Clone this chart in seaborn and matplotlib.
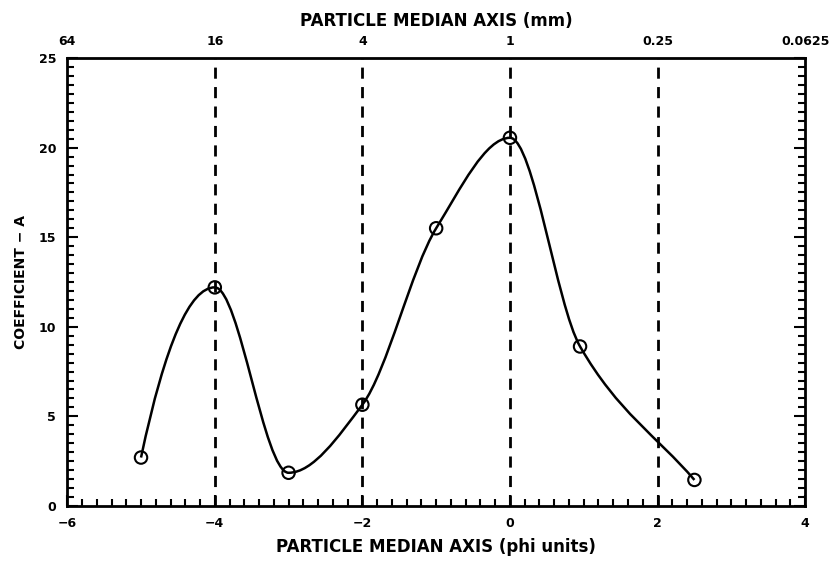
import numpy as np
import pandas as pd
import matplotlib
matplotlib.use("Agg")
import matplotlib.pyplot as plt
from matplotlib.path import Path
from matplotlib.patches import PathPatch
from matplotlib.ticker import MultipleLocator
import seaborn as sns

# values
phi = [-5, -4, -3, -2, -1, 0, 0.95, 2.5]
coef_a = [2.7, 12.2, 1.85, 5.65, 15.5, 20.55, 8.9, 1.45]
phi_ticks = [-6, -4, -2, 0, 2, 4]
mm_labels = ["64", "16", "4", "1", "0.25", "0.0625"]
dashed_at = [-4, -2, 0, 2]

df = pd.DataFrame({"phi": phi, "A": coef_a})

sns.set_style("ticks")
plt.rcParams["font.family"] = ["DejaVu Sans"]
plt.rcParams["text.color"] = "black"
plt.rcParams["axes.labelcolor"] = "black"
plt.rcParams["xtick.color"] = "black"
plt.rcParams["ytick.color"] = "black"

fig = plt.figure(figsize=(8.3, 5.64), dpi=100)
ax = fig.add_axes([0.081, 0.103, 0.889, 0.794])

# smooth curve through the points: shape-preserving Hermite tangents,
# each segment drawn as a cubic Bezier
x = df["phi"].to_numpy(dtype=float)
y = df["A"].to_numpy(dtype=float)
h = np.diff(x)
d = np.diff(y) / h
m = np.zeros_like(y)
for i in range(1, len(x) - 1):
    if d[i - 1] * d[i] > 0:
        w1 = 2 * h[i] + h[i - 1]
        w2 = h[i] + 2 * h[i - 1]
        m[i] = (w1 + w2) / (w1 / d[i - 1] + w2 / d[i])
m[0] = ((2 * h[0] + h[1]) * d[0] - h[0] * d[1]) / (h[0] + h[1])
m[-1] = d[-1]

verts = [(x[0], y[0])]
codes = [Path.MOVETO]
for i in range(len(x) - 1):
    verts += [(x[i] + h[i] / 3, y[i] + m[i] * h[i] / 3),
              (x[i + 1] - h[i] / 3, y[i + 1] - m[i + 1] * h[i] / 3),
              (x[i + 1], y[i + 1])]
    codes += [Path.CURVE4] * 3
ax.add_patch(PathPatch(Path(verts, codes), fill=False, lw=1.8, ec="black", zorder=3))

sns.scatterplot(data=df, x="phi", y="A", ax=ax, marker="o", s=80,
                facecolor="none", edgecolor="black", linewidth=1.5, zorder=4)

for xv in dashed_at:
    ax.axvline(xv, color="black", lw=2, ls=(0, (4, 3)), zorder=2)

ax.set_xlim(-6, 4)
ax.set_ylim(0, 25)
ax.set_xticks(phi_ticks)
ax.set_yticks([0, 5, 10, 15, 20, 25])
ax.xaxis.set_minor_locator(MultipleLocator(0.2))
ax.yaxis.set_minor_locator(MultipleLocator(0.5))
ax.set_xticklabels([str(t).replace("-", "\u2212") for t in phi_ticks],
                   fontweight="bold", fontsize=9)
ax.set_yticklabels(["0", "5", "10", "15", "20", "25"], fontweight="bold", fontsize=9)
ax.tick_params(which="both", direction="in", right=True, top=False, width=1.5)
ax.tick_params(which="major", length=8, pad=8)
ax.tick_params(which="minor", length=5)
for s in ax.spines.values():
    s.set_visible(True)
    s.set_linewidth(2)
    s.set_color("black")

ax.set_xlabel("PARTICLE MEDIAN AXIS (phi units)", fontsize=12, fontweight="bold", labelpad=6)
ax.set_ylabel("COEFFICIENT \u2212 A", fontsize=10, fontweight="bold", labelpad=8)

top = ax.secondary_xaxis("top")
top.set_xticks(phi_ticks)
top.set_xticklabels(mm_labels, fontweight="bold", fontsize=9)
top.tick_params(length=0, pad=7)
top.set_xlabel("PARTICLE MEDIAN AXIS (mm)", fontsize=12, fontweight="bold", labelpad=7)

fig.savefig("out.png", dpi=100)
